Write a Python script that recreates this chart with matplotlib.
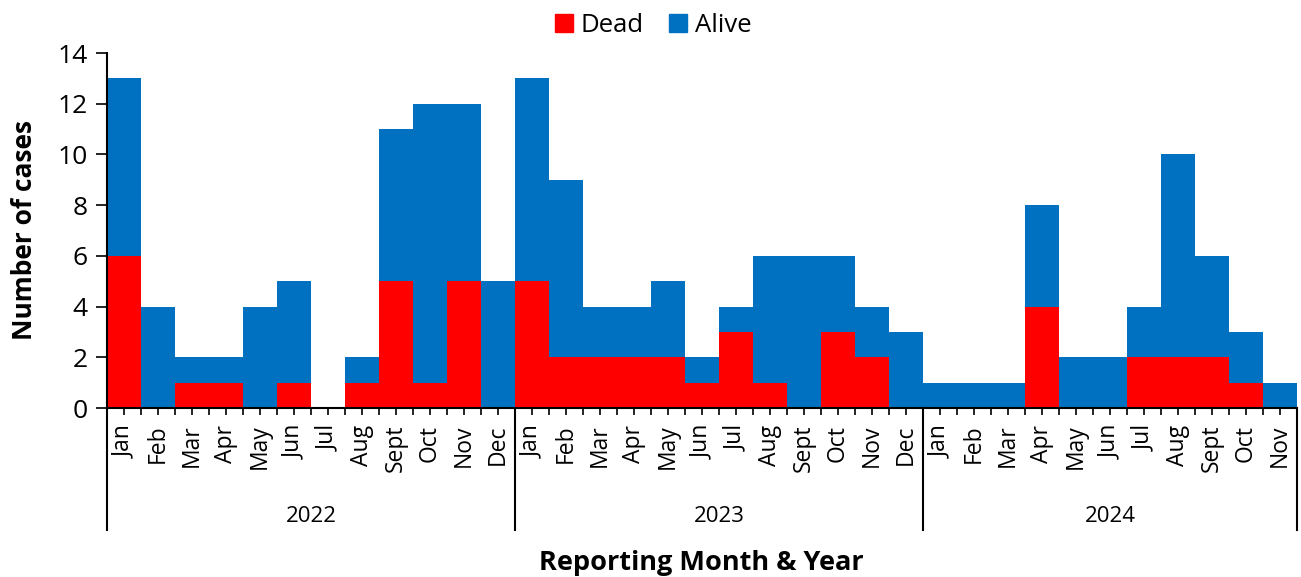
import numpy as np
import matplotlib.pyplot as plt
from matplotlib.patches import Patch

plt.rcParams['font.family'] = ['Open Sans', 'DejaVu Sans']

years = ['2022', '2023', '2024']
months_2022 = ['Jan', 'Feb', 'Mar', 'Apr', 'May', 'Jun', 'Jul', 'Aug', 'Sept', 'Oct', 'Nov', 'Dec']
months_2023 = ['Jan', 'Feb', 'Mar', 'Apr', 'May', 'Jun', 'Jul', 'Aug', 'Sept', 'Oct', 'Nov', 'Dec']
months_2024 = ['Jan', 'Feb', 'Mar', 'Apr', 'May', 'Jun', 'Jul', 'Aug', 'Sept', 'Oct', 'Nov']

dead_2022 = [6, 0, 1, 1, 0, 1, 0, 1, 5, 1, 5, 0]
alive_2022 = [7, 4, 1, 1, 4, 4, 0, 1, 6, 11, 7, 5]
dead_2023 = [5, 2, 2, 2, 2, 1, 3, 1, 0, 3, 2, 0]
alive_2023 = [8, 7, 2, 2, 3, 1, 1, 5, 6, 3, 2, 3]
dead_2024 = [0, 0, 0, 4, 0, 0, 2, 2, 2, 1, 0]
alive_2024 = [1, 1, 1, 4, 2, 2, 2, 8, 4, 2, 1]

months = months_2022 + months_2023 + months_2024
dead = np.array(dead_2022 + dead_2023 + dead_2024)
alive = np.array(alive_2022 + alive_2023 + alive_2024)
group_sizes = [len(months_2022), len(months_2023), len(months_2024)]

red = '#FF0000'
blue = '#0070C0'

fig = plt.figure(figsize=(13.01, 5.77), dpi=100)
ax = fig.add_axes([107/1301, 1 - 408/577, 1190/1301, 355/577])

x = np.arange(len(months))
ax.bar(x, dead, width=1.0, color=red, linewidth=0)
ax.bar(x, alive, width=1.0, bottom=dead, color=blue, linewidth=0)

ax.set_xlim(-0.5, len(months) - 0.5)
ax.set_ylim(0, 14)
ax.set_yticks(range(0, 15, 2))
ax.tick_params(axis='y', labelsize=19, length=8, width=1.2, direction='out', pad=6)

ax.set_xticks(x)
ax.set_xticklabels(months, rotation=90, fontsize=16.5)
ax.set_xticks(np.arange(-0.5, len(months), 1.0), minor=True)
ax.tick_params(axis='x', which='both', length=5, width=1.2, direction='out', pad=7)

for s in ['top', 'right']:
    ax.spines[s].set_visible(False)
for s in ['left', 'bottom']:
    ax.spines[s].set_linewidth(1.5)

# year group separators and labels
trans = ax.get_xaxis_transform()
edges = np.concatenate([[0], np.cumsum(group_sizes)]) - 0.5
for e in edges:
    ax.plot([e, e], [0, -0.344], color='black', lw=1.5, transform=trans, clip_on=False)
for i, yr in enumerate(years):
    ax.text((edges[i] + edges[i + 1]) / 2, -0.305, yr, transform=trans,
            ha='center', va='center', fontsize=16)

ax.set_ylabel('Number of cases', fontsize=19, fontweight='bold', labelpad=14)
fig.text(0.539, 0.024, 'Reporting Month & Year', ha='center', va='center',
         fontsize=19.5, fontweight='bold')

handles = [Patch(color=red, label='Dead'), Patch(color=blue, label='Alive')]
fig.legend(handles=handles, loc='center', bbox_to_anchor=(0.502, 0.955), ncol=2,
           frameon=False, fontsize=18.5, handlelength=0.7, handleheight=0.7,
           handletextpad=0.3, columnspacing=1.0)

fig.savefig('out.png', dpi=100)
